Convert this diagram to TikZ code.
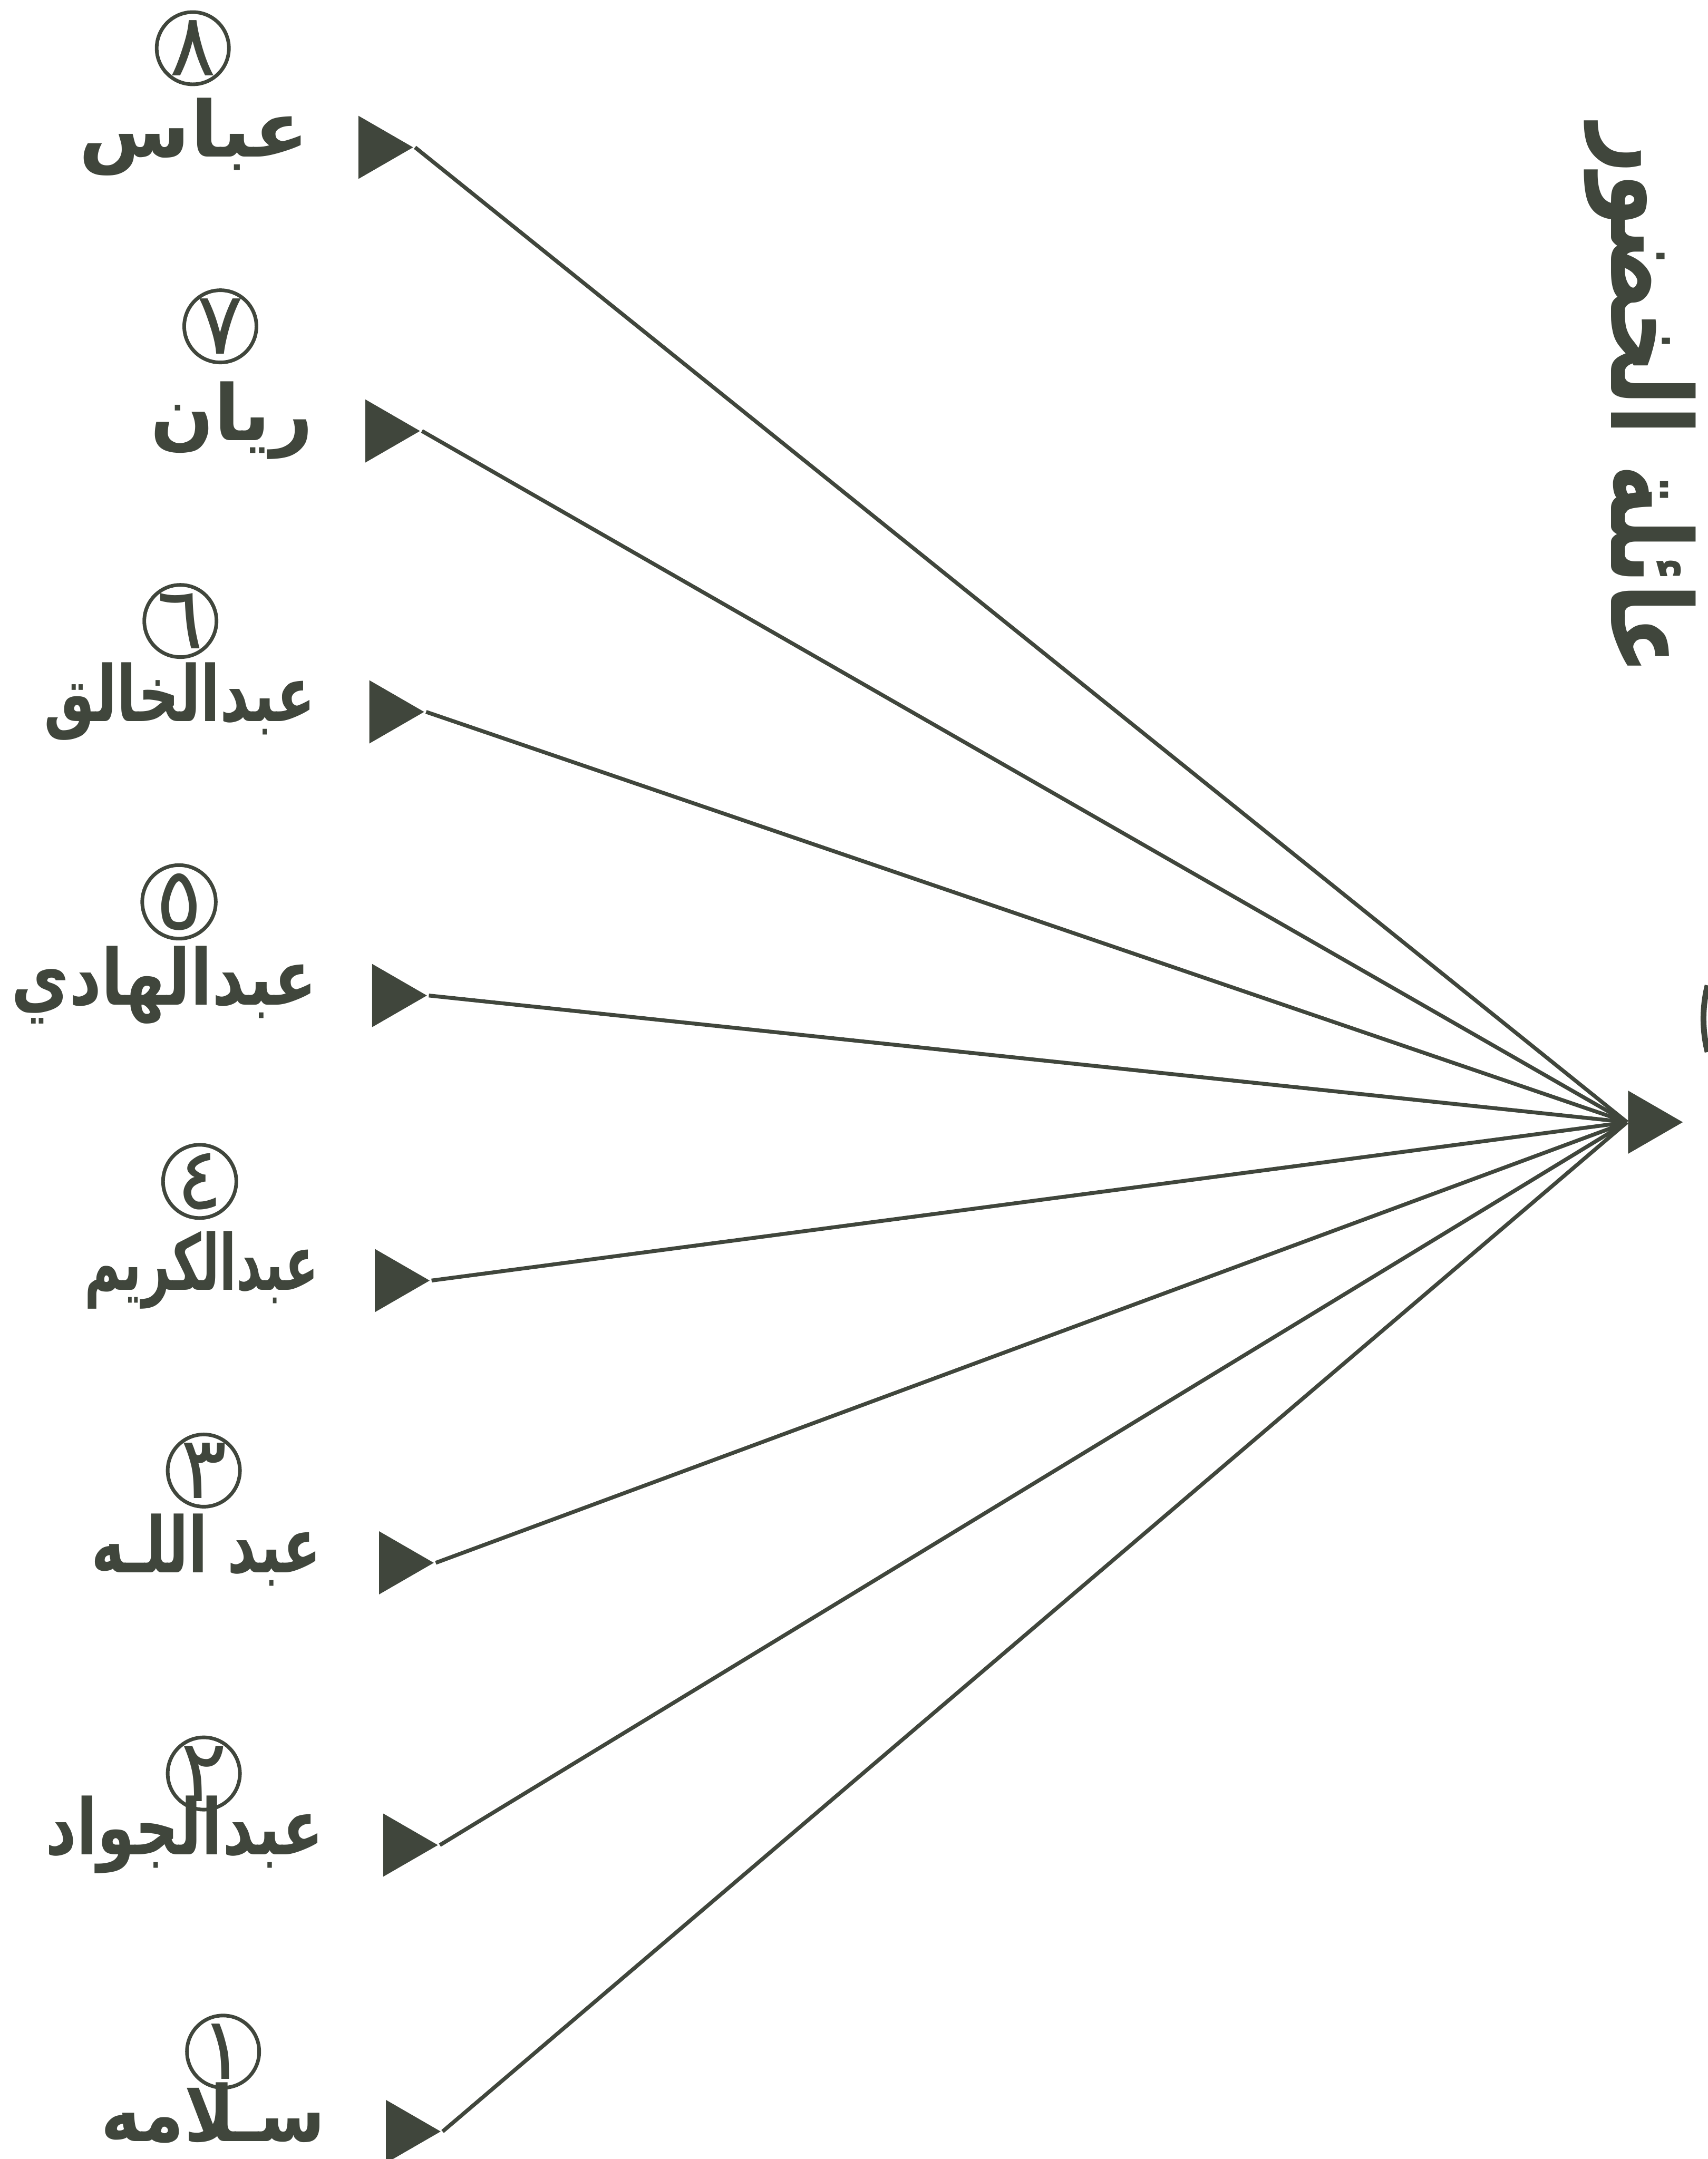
\documentclass[tikz,border=0pt]{standalone}
\usepackage{fontspec}
\usetikzlibrary{shapes.geometric}
\newfontfamily\arabicfont[Script=Arabic]{DejaVu Sans}
\TeXXeTstate=1
\definecolor{ink}{RGB}{64,70,60}

\begin{document}
\begin{tikzpicture}[x=0.1mm, y=-0.1mm,
  pointer/.style={regular polygon, regular polygon sides=3, shape border rotate=-90,
    fill=ink, minimum size=5.3mm, inner sep=0pt},
  numring/.style={circle, draw=ink, line width=0.75pt, minimum size=5.2mm, inner sep=0pt,
    text=ink, font=\arabicfont\fontsize{18}{18}\selectfont},
  kidname/.style={anchor=base east, inner sep=0pt, text=ink,
    font=\arabicfont\bfseries\fontsize{16}{16}\selectfont},
  link/.style={draw=ink, line width=0.8pt}]

% page
\fill[white] (0,0) rectangle (1240,1568);
\useasboundingbox (0,0) rectangle (1240,1568);

% family head and title
\node[pointer] (root) at (1195.5,815) {};
\node[rotate=-90, text=ink, font=\arabicfont\bfseries\fontsize{23}{23}\selectfont]
  (title) at (1191,290) {\resizebox{40mm}{\height}{\beginR عائلة الخضور\endR}};

% children: number/name/width/digit/apex x/apex y/ring x/ring y
\foreach \i/\nm/\nw/\dg/\tx/\ty/\cx/\cy in {
  8/عباس/16.7/٨/300/107/140/35,
  7/ريان/11.8/٧/305/313/160/237,
  6/عبدالخالق/19.7/٦/308/517/131/451,
  5/عبدالهادي/22.2/٥/310/723/130/655,
  4/عبدالكريم/17.0/٤/312/930/145/858,
  3/عبد اللـه/16.7/٣/315/1135/148/1068,
  2/عبدالجواد/20.2/٢/318/1340/148/1288,
  1/سـلامه/16.3/١/320/1548/162/1490}
{
  \node[pointer] (k\i) at (\tx-26.5,\ty) {};
  \node[kidname] (n\i) at (225+0.6*\tx-180,\ty+7)
    {\resizebox{\nw mm}{\height}{\beginR\nm\endR}};
  \node[numring] (r\i) at (\cx,\cy) {\dg};
  \draw[link] (k\i.corner 1) -- (root.west);
}

% edge of the facing page
\draw[ink, line width=1.2pt] (1240,764) arc[start angle=166, end angle=194, radius=100];

\end{tikzpicture}
\end{document}
